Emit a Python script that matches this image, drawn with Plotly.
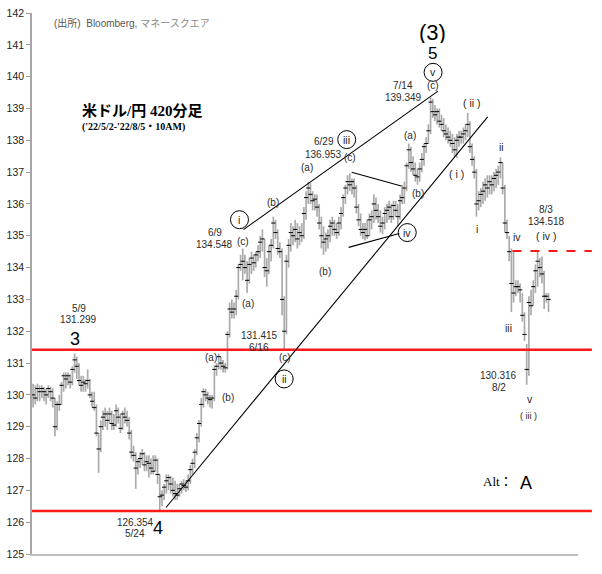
import plotly.graph_objects as go

# ---- data: USD/JPY 420-minute bars ('22/5/2 - '22/8/5 10AM) ----
closes = [
    130.0, 129.9, 130.2, 130.1, 130.2, 130.1, 130.0, 130.2, 130.1, 129.9,
    129.0, 129.7, 129.7, 130.3, 130.6, 130.5, 130.6, 130.4, 130.8, 131.1,
    130.9, 130.45, 130.3, 130.4, 130.35, 130.45, 130.0, 129.8, 129.6, 128.8,
    128.3, 129.0, 129.3, 129.4, 129.2, 129.4, 129.1, 129.05, 129.5, 129.3,
    128.95, 129.4, 129.3, 129.2, 128.8, 128.2, 128.1, 127.7, 127.9, 128.0,
    128.15, 127.8, 127.9, 127.85, 127.7, 127.6, 127.95, 127.5, 126.8, 126.85,
    127.1, 127.3, 127.4, 127.2, 127.0, 126.9, 126.85, 127.05, 127.2, 127.15,
    127.1, 127.3, 127.65, 127.85, 128.2, 128.65, 129.1, 129.7, 130.1, 130.0,
    129.9, 129.85, 129.9, 130.8, 130.9, 131.2, 131.0, 130.9, 130.85, 131.9,
    132.7, 132.6, 132.7, 133.1, 134.0, 134.1, 134.2, 134.0, 133.6, 134.1,
    134.3, 134.15, 134.4, 134.5, 134.8, 134.9, 134.0, 133.9, 134.5, 134.7,
    135.4, 135.1, 134.6, 134.5, 133.0, 132.0, 134.2, 134.7, 135.1, 135.0,
    135.2, 134.9, 135.1, 135.0, 135.7, 136.2, 136.5, 136.3, 136.1, 136.15,
    135.9, 135.4, 135.0, 134.8, 134.9, 135.0, 135.3, 135.4, 135.2, 135.1,
    135.4, 135.7, 136.2, 136.5, 136.7, 136.6, 136.7, 136.5, 135.9, 135.5,
    135.2, 135.1, 135.2, 135.0, 135.5, 135.6, 136.0, 135.8, 135.6, 135.3,
    135.4, 135.7, 135.8, 135.9, 135.6, 135.95, 135.8, 135.6, 136.1, 136.2,
    136.5, 137.2, 137.7, 137.3, 137.1, 136.9, 136.85, 137.1, 137.4, 137.8,
    137.9, 138.3, 139.2, 138.9, 138.8, 138.9, 138.6, 138.5, 138.3, 138.2,
    138.1, 138.0, 137.9, 137.7, 138.0, 138.1, 138.1, 138.2, 138.3, 138.5,
    137.8, 137.4, 137.0, 136.0, 136.1, 136.3, 136.4, 136.6, 136.5, 136.7,
    136.6, 136.8, 136.9, 137.0, 137.3, 136.5, 135.4, 135.1, 134.5, 133.5,
    133.2, 133.4, 133.4, 133.3, 132.5, 131.9, 130.8, 132.9, 132.8, 133.4,
    133.9, 134.2, 134.0, 133.8, 133.1, 133.1, 133.0,
]
highs = [
    130.35, 130.3, 130.35, 130.3, 130.3, 130.25, 130.2, 130.3, 130.25, 130.2,
    129.9, 129.8, 130.0, 130.4, 130.7, 130.7, 130.7, 130.65, 130.9, 131.3,
    131.2, 131.0, 130.6, 130.6, 130.5, 130.8, 130.5, 130.1, 130.1, 129.7,
    128.8, 129.2, 129.5, 129.6, 129.5, 129.6, 129.5, 129.4, 129.7, 129.6,
    129.4, 129.5, 129.6, 129.5, 129.3, 128.9, 128.4, 128.2, 128.0, 128.2,
    128.3, 128.2, 128.1, 128.1, 128.0, 128.1, 128.1, 128.0, 127.5, 127.0,
    127.2, 127.5, 127.5, 127.45, 127.4, 127.3, 127.2, 127.2, 127.3, 127.35,
    127.3, 127.5, 127.8, 128.0, 128.3, 128.8, 129.2, 129.9, 130.2, 130.2,
    130.1, 130.0, 130.0, 130.9, 131.0, 131.3, 131.2, 131.1, 131.0, 132.0,
    132.9, 133.0, 132.9, 133.3, 134.1, 134.4, 134.6, 134.4, 134.2, 134.3,
    134.5, 134.4, 134.5, 134.7, 135.0, 135.2, 134.9, 134.3, 134.7, 134.9,
    135.6, 135.5, 135.2, 134.8, 134.6, 133.1, 134.4, 134.9, 135.4, 135.3,
    135.5, 135.4, 135.3, 135.4, 135.9, 136.4, 136.7, 136.65, 136.4, 136.3,
    136.3, 136.0, 135.6, 135.3, 135.1, 135.2, 135.5, 135.6, 135.5, 135.4,
    135.6, 135.9, 136.3, 136.6, 136.9, 136.953, 136.8, 136.8, 136.6, 136.0,
    135.7, 135.4, 135.4, 135.5, 135.7, 135.8, 136.3, 136.2, 136.0, 135.8,
    135.6, 135.9, 136.0, 136.1, 136.0, 136.1, 136.1, 136.0, 136.3, 136.6,
    136.7, 137.3, 137.9, 137.8, 137.5, 137.3, 137.1, 137.3, 137.6, 137.9,
    138.1, 138.5, 139.349, 139.3, 139.1, 139.0, 139.0, 138.8, 138.7, 138.5,
    138.4, 138.3, 138.2, 138.1, 138.2, 138.3, 138.3, 138.4, 138.5, 138.86,
    138.6, 137.9, 137.5, 137.1, 136.4, 136.5, 136.7, 136.8, 136.9, 136.9,
    136.9, 137.0, 137.1, 137.2, 137.46, 137.3, 136.6, 135.5, 135.0, 134.6,
    134.55, 133.6, 133.6, 133.5, 133.2, 132.6, 131.6, 133.1, 133.3, 133.6,
    134.1, 134.518, 134.3, 134.35, 133.9, 133.2, 133.2,
]
lows = [
    129.6, 129.7, 129.8, 129.8, 129.9, 129.8, 129.7, 129.9, 129.8, 129.6,
    128.7, 128.9, 129.5, 129.7, 130.1, 130.2, 130.3, 130.2, 130.3, 130.7,
    130.5, 130.3, 130.1, 130.1, 130.1, 130.2, 129.9, 129.6, 129.5, 128.7,
    127.55, 128.2, 128.9, 129.0, 128.9, 129.1, 128.9, 128.9, 129.0, 129.1,
    128.8, 128.9, 129.1, 129.0, 128.6, 128.0, 127.9, 127.05, 127.5, 127.7,
    127.8, 127.6, 127.6, 127.4, 127.5, 127.5, 127.6, 127.2, 126.354, 126.5,
    126.7, 126.9, 127.0, 126.9, 126.8, 126.7, 126.7, 126.8, 126.9, 127.0,
    126.95, 127.0, 127.2, 127.5, 127.7, 128.1, 128.5, 129.0, 129.6, 129.8,
    129.7, 129.6, 129.57, 129.8, 130.6, 130.8, 130.8, 130.7, 130.7, 130.8,
    131.8, 132.4, 132.4, 132.5, 133.0, 133.9, 133.6, 133.8, 133.2, 133.5,
    133.8, 133.9, 134.0, 134.2, 134.3, 134.5, 133.7, 133.4, 133.8, 134.2,
    134.6, 134.9, 134.4, 134.3, 132.5, 131.415, 131.9, 134.0, 134.5, 134.7,
    134.8, 134.6, 134.7, 134.8, 134.9, 135.5, 136.0, 136.0, 135.8, 135.8,
    135.6, 135.2, 134.6, 134.4, 134.5, 134.6, 134.8, 135.0, 135.0, 134.9,
    135.0, 135.2, 135.6, 136.0, 136.3, 136.4, 136.3, 136.2, 135.7, 135.3,
    135.0, 134.9, 134.85, 134.9, 135.0, 135.2, 135.4, 135.5, 135.4, 135.1,
    135.05, 135.2, 135.4, 135.5, 135.4, 135.5, 135.6, 135.3, 135.5, 136.0,
    136.0, 136.4, 137.1, 137.0, 136.9, 136.7, 136.6, 136.7, 137.0, 137.2,
    137.6, 137.9, 138.2, 138.7, 138.6, 138.5, 138.4, 138.3, 138.1, 138.0,
    137.9, 137.8, 137.6, 137.5, 137.45, 137.8, 137.9, 137.9, 138.0, 138.1,
    137.6, 137.2, 136.8, 135.6, 135.8, 135.9, 136.0, 136.1, 136.2, 136.3,
    136.3, 136.4, 136.5, 136.6, 136.8, 136.3, 135.1, 134.9, 134.2, 132.6,
    132.9, 133.1, 133.2, 132.9, 132.3, 131.7, 130.316, 130.6, 132.5, 132.8,
    133.2, 133.4, 133.7, 133.5, 132.7, 132.9, 132.6,
]
bar_index = list(range(len(closes)))

y_ticks = list(range(125, 143))
support_levels = [131.415, 126.354]
resistance_level = 134.518

# ---- layout geometry ----
W, H = 602, 574
ML, MR, MT, MB = 28, 24, 7, 20
PW, PH = W - ML - MR, H - MT - MB
XR = [-0.5, 249.5]
YR = [125, 142]


def dx(px):
    return XR[0] + (px - ML) / PW * (XR[1] - XR[0])


def dy(py):
    return YR[1] - (py - MT) / PH * (YR[1] - YR[0])


fig = go.Figure()
fig.add_trace(go.Scatter(
    x=bar_index, y=closes, mode="markers",
    marker=dict(symbol="line-ew", size=3, color="black",
                line=dict(width=1, color="black")),
    error_y=dict(type="data", symmetric=False,
                 array=[h - c for h, c in zip(highs, closes)],
                 arrayminus=[c - l for c, l in zip(closes, lows)],
                 width=0, thickness=1.7, color="#ababab"),
    hoverinfo="skip", showlegend=False,
))

shapes = []
for lv in support_levels:
    shapes.append(dict(type="line", xref="paper", yref="y", x0=0, x1=(592 - ML) / PW,
                       y0=lv, y1=lv, line=dict(color="#ff1a1a", width=2.5)))
shapes.append(dict(type="line", xref="paper", yref="y", x0=(512 - ML) / PW, x1=(592 - ML) / PW,
                   y0=resistance_level, y1=resistance_level,
                   line=dict(color="#ff1a1a", width=2, dash="dash")))

trend = [((163, 507), (487, 112)), ((241, 226), (437, 86)),
         ((350, 168), (400, 182)), ((347, 244), (398, 230))]
for (ax, ay), (bx, by) in trend:
    shapes.append(dict(type="line", xref="x", yref="y", x0=dx(ax), y0=dy(ay),
                       x1=dx(bx), y1=dy(by), line=dict(color="black", width=1.1)))

circles = [(237, 216, "i"), (282, 377, "ii"), (345, 135, "iii"), (406, 229, "iv"), (432, 67, "v")]
for cx, cy, _ in circles:
    shapes.append(dict(type="circle", xref="x", yref="y", xsizemode="pixel", ysizemode="pixel",
                       xanchor=dx(cx), yanchor=dy(cy), x0=-9, x1=9, y0=-9, y1=9,
                       line=dict(color="black", width=1)))

SANS = "Liberation Sans, Arial, sans-serif"
ann = []


def lab(px, py, text, size=10.5, color="#2b2b2b", family=SANS, xanchor="center", height=None):
    a = dict(x=dx(px), y=dy(py), xref="x", yref="y", text=text, showarrow=False,
             xanchor=xanchor, yanchor="middle",
             font=dict(size=size, color=color, family=family))
    if height:
        a["height"] = height
    ann.append(a)


for cx, cy, t in circles:
    lab(cx, cy, t, size=10.5, color="#222222")

small = [
    (402, 80, "7/14"), (402, 92, "139.349"), (432, 80, "(c)"),
    (409, 131, "(a)"), (322, 137, "6/29"), (322, 150, "136.953"), (348, 153, "(c)"),
    (305, 163, "(a)"), (417, 190, "(b)"),
    (546, 206, "8/3"), (546, 218, "134.518"),
    (498, 374, "130.316"), (498, 386, "8/2"),
    (323, 268, "(b)"), (212, 229, "6/9"), (212, 241, "134.548"),
    (241, 238, "(c)"), (271, 199, "(b)"), (246, 301, "(a)"), (257, 333, "131.415"),
    (257, 345, "6/16"), (208, 355, "(a)"), (225, 396, "(b)"), (283, 355, "(c)"),
    (75, 306, "5/9"), (75, 317, "131.299"), (132, 522, "126.354"), (132, 533, "5/24"),
]
for px, py, t in small:
    lab(px, py, t, size=10)

roman = [
    (471, 98, "( ii )"), (456, 170, "( i )"), (501, 142, "ii"), (476, 225, "i"),
    (546, 232, "( iv )"), (517, 233, "iv"), (508, 325, "iii"), (530, 397, "v"),
]
for px, py, t in roman:
    lab(px, py, t, size=10.5, color="#222222")
lab(528, 414, "( iii )", size=9, color="#222222")

lab(431, 26, "(3)", size=22, color="black", height=22)
lab(431, 47, "5", size=17, color="black", height=16)
lab(71, 337, "3", size=18, color="black")
lab(155, 528, "4", size=18, color="black")

lab(48, 17, "(出所)  Bloomberg, <span style='color:#8a8a8a'>マネースクエア</span>", size=10,
    color="#555555", family="Liberation Sans, Noto Sans CJK JP", xanchor="left")
lab(76, 106, "<b>米ドル/円 420分足</b>", size=15, color="black",
    family="Liberation Serif, Noto Sans CJK JP", xanchor="left")
lab(76, 122, "<b>('22/5/2-'22/8/5・10AM)</b>", size=10, color="black",
    family="Liberation Serif, Noto Sans CJK JP", xanchor="left")
lab(480, 481, "Alt：", size=13, color="black",
    family="Liberation Serif, Noto Sans CJK JP", xanchor="left")
lab(526, 482, "A", size=18, color="black")

fig.update_layout(
    width=W, height=H, margin=dict(l=ML, r=MR, t=MT, b=MB),
    paper_bgcolor="white", plot_bgcolor="white",
    shapes=shapes, annotations=ann, showlegend=False,
    xaxis=dict(range=XR, showgrid=False, zeroline=False, showticklabels=False, ticks="",
               showline=True, linecolor="#bdbdbd", linewidth=2, fixedrange=True),
    yaxis=dict(range=YR, tickvals=y_ticks, showgrid=False, zeroline=False,
               ticks="outside", ticklen=4, tickcolor="#9a9a9a", tickwidth=1,
               showline=True, linecolor="#a6a6a6", linewidth=1.5,
               tickfont=dict(size=10.5, color="#222222", family=SANS), fixedrange=True),
)

fig.write_html("out.html", config={"displayModeBar": False},
               post_script="document.body.style.margin='0';")
